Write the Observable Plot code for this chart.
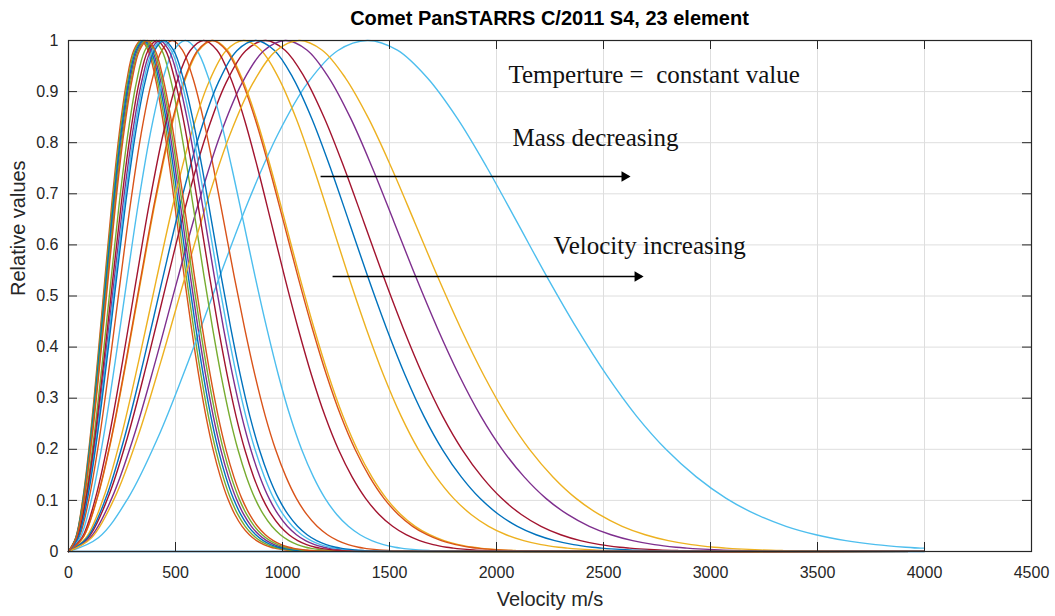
<!DOCTYPE html>
<html><head><meta charset="utf-8">
<script src="https://cdn.jsdelivr.net/npm/d3@7"></script>
<script src="https://cdn.jsdelivr.net/npm/@observablehq/plot@0.6"></script>
<style>
body{margin:0;background:#fff;}
#wrap{position:relative;width:1055px;height:616px;}
#title{position:absolute;left:68px;width:963px;top:7px;text-align:center;font:bold 20px "Liberation Sans Narrow","Liberation Sans",Arial,sans-serif;color:#000;}
svg text{white-space:pre;}
</style></head><body><div id="wrap"><div id="title">Comet PanSTARRS C/2011 S4, 23 element</div></div>
<script>
// 23 elements, drawn in MATLAB colour order; the first one is flat at zero
const elementNames = d3.range(1, 24).map(i => "Element " + i);
// velocity of the peak of each curve (m/s)
const peakVelocity = [null, 338, 675, 356, 344, 1397, 920, 350, 484, 818, 1014, 396,
  545, 631, 874, 670, 1078, 426, 362, 436, 412, 446, 368];
// common normalised shape of every curve: v / v_peak  ->  relative value
const shapeRatio = [0, 0.1, 0.2, 0.3, 0.4, 0.5, 0.6, 0.7, 0.8, 0.9, 1.0, 1.1, 1.2, 1.3, 1.4,
  1.5, 1.6, 1.7, 1.8, 1.9, 2.0, 2.1, 2.2, 2.3, 2.4, 2.5, 2.6, 2.7, 2.8, 2.85, 2.9, 3.0,
  3.1, 3.2, 3.3, 3.4, 3.5];
const shapeValue = [0, 0.027, 0.105, 0.224, 0.371, 0.529, 0.683, 0.816, 0.917, 0.980, 1.0,
  0.981, 0.927, 0.848, 0.751, 0.645, 0.538, 0.437, 0.345, 0.265, 0.199, 0.146, 0.104,
  0.0725, 0.0493, 0.0328, 0.0213, 0.0135, 0.0084, 0.0066, 0.0051, 0.0030, 0.0018,
  0.0010, 0.0006, 0.0003, 0.0002];
const velocityEnd = 4000;
const xTicks = [0, 500, 1000, 1500, 2000, 2500, 3000, 3500, 4000, 4500];
const yTicks = [0, 0.1, 0.2, 0.3, 0.4, 0.5, 0.6, 0.7, 0.8, 0.9, 1];
const matlabColors = ["#0072BD", "#D95319", "#EDB120", "#7E2F8E", "#77AC30", "#4DBEEE", "#A2142F"];
const notes = ["Temperture =  constant value", "Mass decreasing", "Velocity increasing"];
const noteX = [2056, 2075, 2266];
const noteY = [0.933, 0.810, 0.597];
const arrowStart = [1178, 1234];
const arrowEnd = [2617, 2678];
const arrowY = [0.734, 0.538];

const rows = [];
elementNames.forEach((name, i) => {
  const p = peakVelocity[i];
  if (p === null) { rows.push({name, v: 0, y: 0}, {name, v: velocityEnd, y: 0}); return; }
  let last = 0;
  shapeRatio.forEach((u, j) => {
    const v = u * p;
    if (v <= velocityEnd) { rows.push({name, v, y: shapeValue[j]}); last = shapeValue[j]; }
  });
  rows.push({name, v: velocityEnd, y: last});
});
const noteRows = notes.map((t, i) => ({t, x: noteX[i], y: noteY[i]}));
const arrowRows = arrowStart.map((s, i) => ({x1: s, x2: arrowEnd[i], y: arrowY[i]}));

const fw = 1055 - 68 - 24, fh = 616 - 40 - 65, tl = 9;
const sans = '"Liberation Sans Narrow","Liberation Sans",Arial,sans-serif';
const plot = Plot.plot({
  width: 1055, height: 616,
  marginLeft: 68, marginRight: 24, marginTop: 40, marginBottom: 65,
  style: {fontFamily: sans, fontSize: "16px", color: "#262626", background: "#fff"},
  x: {domain: [0, 4500], label: null},
  y: {domain: [0, 1], label: null},
  color: {type: "ordinal", domain: elementNames, range: matlabColors},
  marks: [
    Plot.gridX(xTicks, {stroke: "#dedede", strokeOpacity: 1}),
    Plot.gridY(yTicks, {stroke: "#dedede", strokeOpacity: 1}),
    Plot.line(rows, {x: "v", y: "y", z: "name", stroke: "name", strokeWidth: 1.4, curve: "catmull-rom"}),
    Plot.tickX(xTicks, {x: d => d, stroke: "#262626", insetTop: fh - tl}),
    Plot.tickX(xTicks, {x: d => d, stroke: "#262626", insetBottom: fh - tl}),
    Plot.tickY(yTicks, {y: d => d, stroke: "#262626", insetRight: fw - tl}),
    Plot.tickY(yTicks, {y: d => d, stroke: "#262626", insetLeft: fw - tl}),
    Plot.frame({stroke: "#262626", strokeWidth: 1.2}),
    Plot.axisX(xTicks, {tickSize: 0, tickPadding: 15, fontSize: 16, tickFormat: d => String(d)}),
    Plot.axisY(yTicks, {tickSize: 0, tickPadding: 10, fontSize: 16, tickFormat: d => String(d)}),
    Plot.text(["Velocity m/s"], {frameAnchor: "bottom", dy: 54, fontSize: 20, fill: "#262626"}),
    Plot.text(["Relative values"], {frameAnchor: "left", dx: -50, rotate: -90, fontSize: 20, fill: "#262626"}),
    Plot.text(noteRows, {x: "x", y: "y", text: "t", textAnchor: "start", lineAnchor: "middle",
      fontFamily: '"Liberation Serif","Times New Roman",serif', fontSize: 25, fill: "#111"}),
    Plot.link(arrowRows, {x1: "x1", x2: "x2", y1: "y", y2: "y", stroke: "#000", strokeWidth: 1.5}),
    Plot.dot(arrowRows, {x: "x2", y: "y", symbol: "triangle2", rotate: 90, r: 5, fill: "#000", dx: -4})
  ]
});
document.getElementById("wrap").prepend(plot);
</script></body></html>
